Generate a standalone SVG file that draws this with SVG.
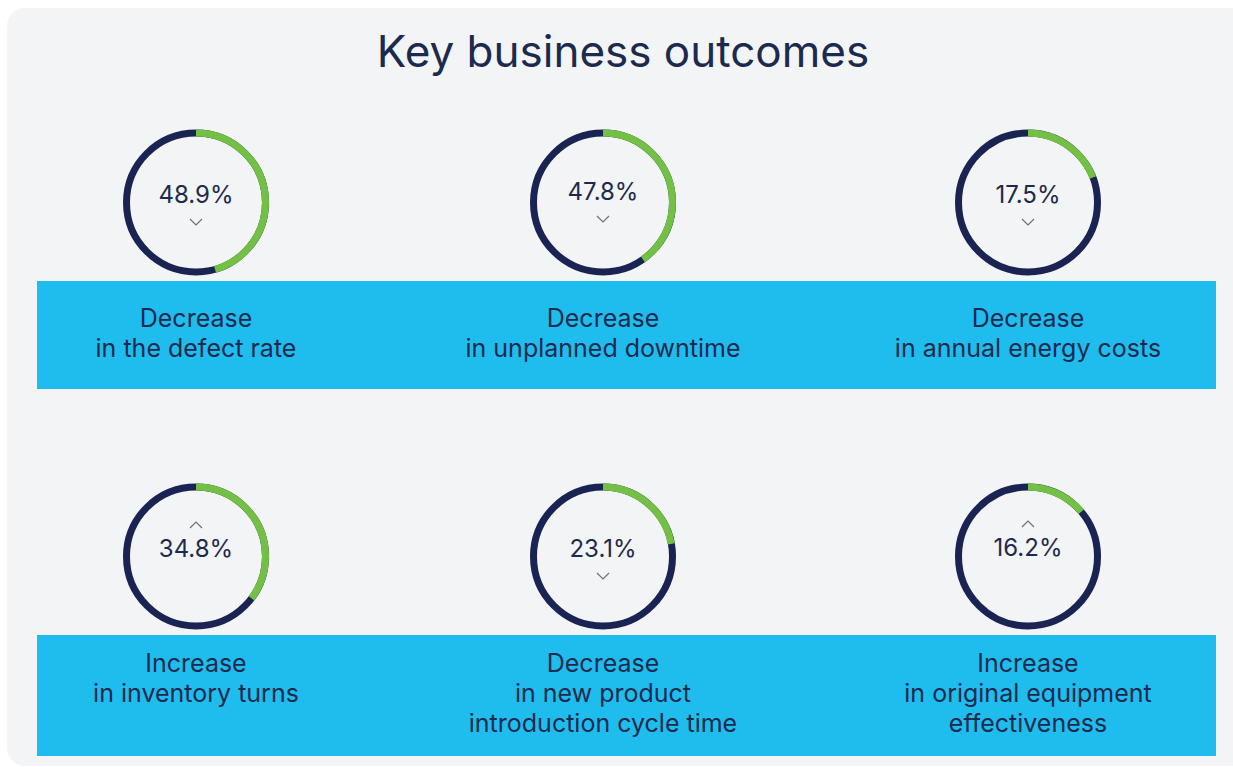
<svg xmlns="http://www.w3.org/2000/svg" width="1233" height="767" viewBox="0 0 1233 767">
  <style>
    .title{font-family:Inter,"Liberation Sans",sans-serif;font-size:44px;fill:#1b2a4e;text-anchor:middle}
    .pct{font-family:Inter,"Liberation Sans",sans-serif;font-size:24px;fill:#1d2a4d;text-anchor:middle}
    .lbl{font-family:Inter,"Liberation Sans",sans-serif;font-size:25px;fill:#1d2a4d;text-anchor:middle}
    .band{fill:#1fbdee}
    .ring{fill:none;stroke:#1a2452;stroke-width:7}
    .arc{fill:none;stroke:#72c044;stroke-width:7}
    .chev{fill:none;stroke:#6b7085;stroke-width:1.2}
  </style>
  <rect x="0" y="0" width="1233" height="767" fill="#ffffff"/>
  <rect x="7" y="8" width="1245" height="758" rx="18" fill="#f3f4f6"/>
  <text class="title" x="623" y="67">Key business outcomes</text>

  <rect class="band" x="37" y="281" width="1179" height="108"/>
  <rect class="band" x="37" y="635" width="1179" height="121"/>

  <g id="node-defect">
    <circle class="ring" cx="196" cy="202.5" r="69.5"/>
    <circle class="arc" cx="196" cy="202.5" r="69.5" pathLength="360" stroke-dasharray="164 400" transform="rotate(-90 196 202.5)"/>
    <text class="pct" x="196" y="203">48.9%</text>
    <polyline class="chev" points="190,219 196,225 202,219"/>
    <text class="lbl" x="196" y="327">Decrease</text>
    <text class="lbl" x="196" y="357">in the defect rate</text>
  </g>

  <g id="node-downtime">
    <circle class="ring" cx="603" cy="202.5" r="69.5"/>
    <circle class="arc" cx="603" cy="202.5" r="69.5" pathLength="360" stroke-dasharray="145 400" transform="rotate(-90 603 202.5)"/>
    <text class="pct" x="603" y="200">47.8%</text>
    <polyline class="chev" points="597,216 603,222 609,216"/>
    <text class="lbl" x="603" y="327">Decrease</text>
    <text class="lbl" x="603" y="357">in unplanned downtime</text>
  </g>

  <g id="node-energy">
    <circle class="ring" cx="1028" cy="202.5" r="69.5"/>
    <circle class="arc" cx="1028" cy="202.5" r="69.5" pathLength="360" stroke-dasharray="69 400" transform="rotate(-90 1028 202.5)"/>
    <text class="pct" x="1028" y="203">17.5%</text>
    <polyline class="chev" points="1022,219 1028,225 1034,219"/>
    <text class="lbl" x="1028" y="327">Decrease</text>
    <text class="lbl" x="1028" y="357">in annual energy costs</text>
  </g>

  <g id="node-inventory">
    <circle class="ring" cx="196" cy="556.5" r="69.5"/>
    <circle class="arc" cx="196" cy="556.5" r="69.5" pathLength="360" stroke-dasharray="127 400" transform="rotate(-90 196 556.5)"/>
    <polyline class="chev" points="190,528 196,522 202,528"/>
    <text class="pct" x="196" y="556.5">34.8%</text>
    <text class="lbl" x="196" y="672">Increase</text>
    <text class="lbl" x="196" y="702">in inventory turns</text>
  </g>

  <g id="node-npi">
    <circle class="ring" cx="603" cy="556.5" r="69.5"/>
    <circle class="arc" cx="603" cy="556.5" r="69.5" pathLength="360" stroke-dasharray="79.5 400" transform="rotate(-90 603 556.5)"/>
    <text class="pct" x="603" y="556.5">23.1%</text>
    <polyline class="chev" points="597,573 603,579 609,573"/>
    <text class="lbl" x="603" y="672">Decrease</text>
    <text class="lbl" x="603" y="702">in new product</text>
    <text class="lbl" x="603" y="732">introduction cycle time</text>
  </g>

  <g id="node-oee">
    <circle class="ring" cx="1028" cy="556.5" r="69.5"/>
    <circle class="arc" cx="1028" cy="556.5" r="69.5" pathLength="360" stroke-dasharray="50 400" transform="rotate(-90 1028 556.5)"/>
    <polyline class="chev" points="1022,527 1028,521 1034,527"/>
    <text class="pct" x="1028" y="556">16.2%</text>
    <text class="lbl" x="1028" y="672">Increase</text>
    <text class="lbl" x="1028" y="702">in original equipment</text>
    <text class="lbl" x="1028" y="732">effectiveness</text>
  </g>

  <g id="connectors"></g>
</svg>
